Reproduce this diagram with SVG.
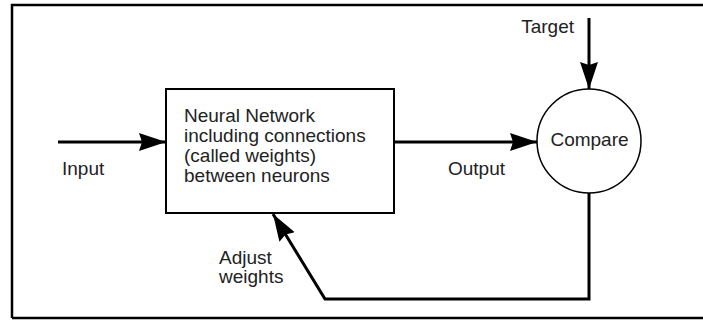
<svg xmlns="http://www.w3.org/2000/svg" width="703" height="320" viewBox="0 0 703 320">
<style>
text{font-family:"Liberation Sans",Arial,sans-serif;font-size:19px;fill:#222}
.ln{fill:none;stroke:#000;stroke-width:3}
.box{fill:#fff;stroke:#000;stroke-width:2}
</style>
<defs>
<marker id="ah" markerUnits="userSpaceOnUse" markerWidth="28" markerHeight="20" refX="27" refY="10" orient="auto">
<path d="M0,1 L27,10 L0,19 L3,10 Z" fill="#000"/>
</marker>
</defs>
<rect width="703" height="320" fill="#fff"/>
<path d="M12,318 V5 H710 M12,318 H710" fill="none" stroke="#000" stroke-width="2.5"/>
<g id="connectors">
<path class="ln" d="M58,142 H166" marker-end="url(#ah)"/>
<path class="ln" d="M394,142 H537" marker-end="url(#ah)"/>
<path class="ln" d="M589,18 V89" marker-end="url(#ah)"/>
<path class="ln" d="M589,193 V299 H325 L273,214" marker-end="url(#ah)"/>
</g>
<g id="network">
<rect class="box" x="166" y="89" width="228" height="124"/>
<text x="184" y="122">Neural Network</text>
<text x="184" y="142">including connections</text>
<text x="184" y="162">(called weights)</text>
<text x="184" y="182">between neurons</text>
</g>
<g id="compare">
<circle cx="589" cy="141" r="52" fill="#fff" stroke="#000" stroke-width="1.5"/>
<text x="589.5" y="146" text-anchor="middle">Compare</text>
</g>
<g id="labels">
<text x="62" y="175">Input</text>
<text x="448" y="175">Output</text>
<text x="574" y="33" text-anchor="end">Target</text>
<text x="219" y="264">Adjust</text>
<text x="219" y="283">weights</text>
</g>
</svg>
